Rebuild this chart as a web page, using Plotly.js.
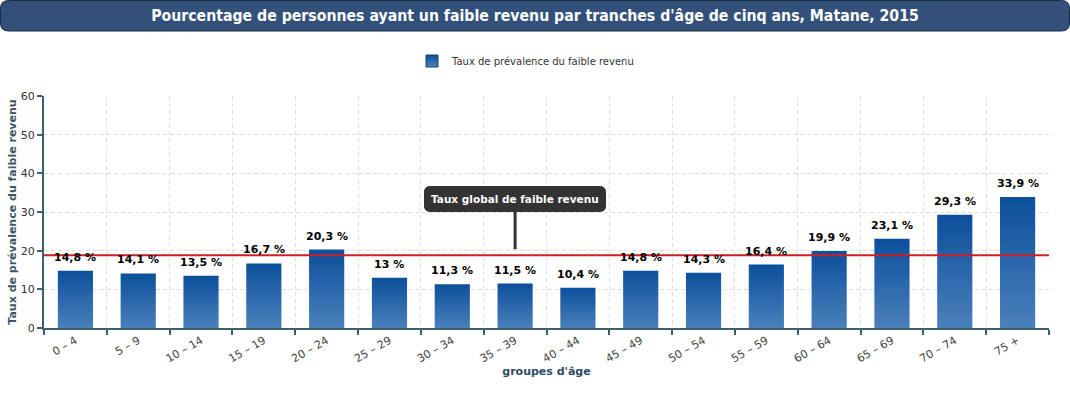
<!DOCTYPE html>
<html>
<head>
<meta charset="utf-8">
<script src="https://cdn.plot.ly/plotly-3.0.1.min.js"></script>
<style>
html,body{margin:0;padding:0;background:#fff;}
#chart{width:1070px;height:400px;}
</style>
</head>
<body>
<div id="chart"></div>
<script>
var categories = ["0 – 4","5 – 9","10 – 14","15 – 19","20 – 24","25 – 29","30 – 34","35 – 39","40 – 44","45 – 49","50 – 54","55 – 59","60 – 64","65 – 69","70 – 74","75 +"];
var tauxValues = [14.8,14.1,13.5,16.7,20.3,13,11.3,11.5,10.4,14.8,14.3,16.4,19.9,23.1,29.3,33.9];
var tauxGlobal = 18.8;
var seriesName = "Taux de prévalence du faible revenu";
var chartTitle = "Pourcentage de personnes ayant un faible revenu par tranches d'âge de cinq ans, Matane, 2015";
var globalLabel = "Taux global de faible revenu";

var labels = tauxValues.map(function(v){ return String(v).replace('.', ',') + ' %'; });

var W = 1070, H = 400, ml = 44, mr = 21, mt = 96, mb = 72;
var pw = W - ml - mr, ph = H - mt - mb;
function px2paperX(p){ return (p - ml) / pw; }
function px2paperY(p){ return (H - mb - p) / ph; }

// rounded banner path in paper coordinates
function roundedRectPath(x0, y0, x1, y1, r){
  var X0 = px2paperX(x0), X1 = px2paperX(x1), Y0 = px2paperY(y0), Y1 = px2paperY(y1);
  var rx = r / pw, ry = r / ph;
  return 'M ' + (X0 + rx) + ',' + Y0 +
    ' L ' + (X1 - rx) + ',' + Y0 +
    ' Q ' + X1 + ',' + Y0 + ' ' + X1 + ',' + (Y0 - ry) +
    ' L ' + X1 + ',' + (Y1 + ry) +
    ' Q ' + X1 + ',' + Y1 + ' ' + (X1 - rx) + ',' + Y1 +
    ' L ' + (X0 + rx) + ',' + Y1 +
    ' Q ' + X0 + ',' + Y1 + ' ' + X0 + ',' + (Y1 + ry) +
    ' L ' + X0 + ',' + (Y0 - ry) +
    ' Q ' + X0 + ',' + Y0 + ' ' + (X0 + rx) + ',' + Y0 + ' Z';
}

var axisColor = '#3d5f6e';
var font = 'DejaVu Sans, Verdana, sans-serif';

var trace = {
  type: 'bar',
  x: categories,
  y: tauxValues,
  name: seriesName,
  marker: {color: '#2a64a8', line: {width: 0}},
  showlegend: true,
  hoverinfo: 'x+y'
};

var valueAnnotations = categories.map(function(c, i){
  return {
    x: c, y: tauxValues[i], xref: 'x', yref: 'y',
    text: '<b>' + labels[i] + '</b>',
    showarrow: false, yanchor: 'bottom', yshift: 5,
    font: {family: font, size: 11, color: '#000'}
  };
});

var layout = {
  width: W, height: H,
  margin: {l: ml, r: mr, t: mt, b: mb},
  paper_bgcolor: '#fff',
  plot_bgcolor: '#fff',
  font: {family: font, size: 10, color: '#333'},
  bargap: 0.44,
  title: {
    text: '<b>' + chartTitle + '</b>',
    font: {family: 'DejaVu Sans Condensed, DejaVu Sans, sans-serif', size: 15.7, color: '#ffffff'},
    x: 0.5, xref: 'container', xanchor: 'center',
    y: 1 - 16/400, yref: 'container', yanchor: 'middle'
  },
  showlegend: true,
  legend: {
    orientation: 'h',
    itemwidth: 30,
    x: 0.5 - 9/1070, xref: 'container', xanchor: 'center',
    y: 1 - 61/400, yref: 'container', yanchor: 'middle',
    font: {family: font, size: 10, color: '#333'}
  },
  xaxis: {
    type: 'category',
    tickson: 'boundaries',
    ticks: 'outside', ticklen: 5, tickwidth: 2, tickcolor: axisColor,
    showline: true, linecolor: axisColor, linewidth: 2,
    showgrid: true, gridcolor: '#dddddd', griddash: '4px,3px', gridwidth: 1,
    tickangle: -30,
    tickfont: {family: font, size: 11, color: '#444'},
    title: {text: "<b>groupes d'âge</b>", font: {family: font, size: 11, color: '#2e4a63'}, standoff: 0},
    fixedrange: true
  },
  yaxis: {
    range: [0, 60], dtick: 10,
    ticks: 'outside', ticklen: 5, tickwidth: 2, tickcolor: axisColor,
    showline: true, linecolor: axisColor, linewidth: 2,
    showgrid: true, gridcolor: '#dddddd', griddash: '4px,3px', gridwidth: 1,
    zeroline: false,
    tickfont: {family: font, size: 11, color: '#333'},
    title: {text: '<b>' + seriesName + '</b>', font: {family: font, size: 11, color: '#3f5565'}, standoff: 2},
    fixedrange: true
  },
  shapes: [
    {
      type: 'path', xref: 'paper', yref: 'paper', layer: 'below',
      path: roundedRectPath(0.5, 0.5, 1069.5, 31, 8),
      fillcolor: '#33507a', line: {color: '#1c2c44', width: 1}
    },
    {
      type: 'line', xref: 'paper', yref: 'y', layer: 'above',
      x0: 0, x1: 1, y0: tauxGlobal, y1: tauxGlobal,
      line: {color: '#cc1f24', width: 2}
    }
  ],
  annotations: valueAnnotations.concat([
    {
      x: categories[7], y: tauxGlobal, xref: 'x', yref: 'y',
      text: '<b>' + globalLabel + '</b>',
      showarrow: true, arrowhead: 0, arrowwidth: 3, arrowcolor: '#333',
      ax: 0, ay: -56, standoff: 6,
      bgcolor: '#333333', bordercolor: '#333333', borderpad: 6, borderwidth: 1,
      font: {family: font, size: 10.5, color: '#ffffff'}
    }
  ])
};

Plotly.newPlot('chart', [trace], layout, {displayModeBar: false, staticPlot: true}).then(function(gd){
  var svg = gd.querySelector('svg.main-svg');
  var defs = svg.querySelector('defs');
  var ns = 'http://www.w3.org/2000/svg';
  var grad = document.createElementNS(ns, 'linearGradient');
  grad.setAttribute('id', 'barGrad');
  grad.setAttribute('x1', '0'); grad.setAttribute('y1', '0');
  grad.setAttribute('x2', '0'); grad.setAttribute('y2', '1');
  var s1 = document.createElementNS(ns, 'stop');
  s1.setAttribute('offset', '0'); s1.setAttribute('stop-color', '#0c4f9b');
  var s2 = document.createElementNS(ns, 'stop');
  s2.setAttribute('offset', '1'); s2.setAttribute('stop-color', '#4a80bb');
  grad.appendChild(s1); grad.appendChild(s2);
  defs.appendChild(grad);
  gd.querySelectorAll('.bars path').forEach(function(p){ p.style.fill = 'url(#barGrad)'; });
  gd.querySelectorAll('.legendpoints path').forEach(function(p){
    p.style.fill = 'url(#barGrad)'; p.style.stroke = '#1b3f6a'; p.style.strokeWidth = '1px';
  });
  gd.querySelectorAll('.annotation rect.bg').forEach(function(r){
    if (r.style.fill && r.style.fill.indexOf('51, 51, 51') >= 0 || r.style.fill === '#333333') {
      r.setAttribute('rx', '5'); r.setAttribute('ry', '5');
    }
  });
});
</script>
</body>
</html>
